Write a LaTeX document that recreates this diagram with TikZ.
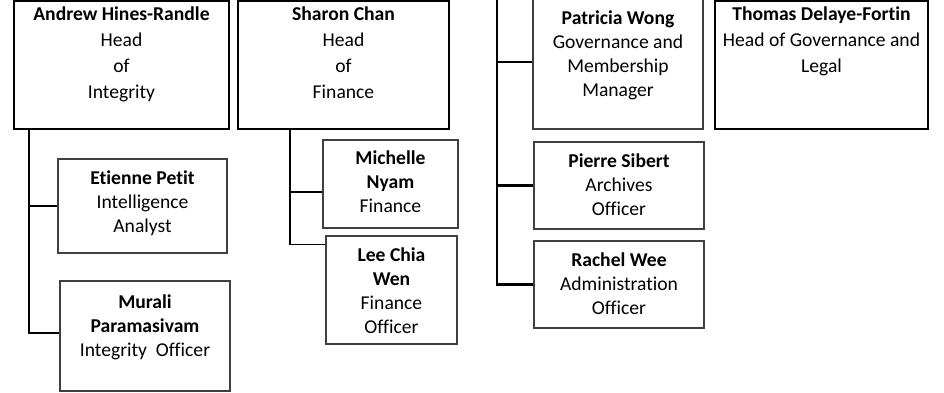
\documentclass[tikz,border=0pt]{standalone}
\usepackage{fontspec}
\setmainfont{Carlito}[Ligatures={NoCommon}]
\usetikzlibrary{calc}

\begin{document}
\begin{tikzpicture}[x=1pt, y=-1pt,
	headbox/.style={draw=black, line width=1.8pt, inner sep=0pt},
	staffbox/.style={draw=black!75, line width=1.2pt, inner sep=0pt},
	headtxt/.style={anchor=north, align=center, inner sep=0pt, font=\fontsize{19.6}{26}\selectfont},
	stafftxt/.style={anchor=north, align=center, inner sep=0pt, font=\fontsize{19.6}{24}\selectfont},
	link/.style={line width=1.6pt, color=black}]
		%%%%% START %%%%%
		\useasboundingbox (0, 0) rectangle (944, 392);
		
		% heads
		\node[headbox, minimum width=215pt, minimum height=128pt] (andrew) at (121.5, 65) {};
		\node[headbox, minimum width=211pt, minimum height=128pt] (sharon) at (343.5, 65) {};
		\node[headbox, minimum width=213pt, minimum height=128pt] (thomas) at (821.5, 65) {};
		\node[headtxt] (andrew-txt) at ([yshift=-6.3pt]andrew.north) {\textbf{Andrew Hines-Randle}\\Head\\of\\Integrity};
		\node[headtxt] (sharon-txt) at ([yshift=-6.3pt]sharon.north) {\textbf{Sharon Chan}\\Head\\of\\Finance};
		\node[headtxt] (thomas-txt) at ([yshift=-6.3pt]thomas.north) {\textbf{Thomas Delaye-Fortin}\\Head of Governance and\\Legal};
		
		% integrity team
		\node[staffbox, minimum width=169pt, minimum height=94pt] (etienne) at (142.5, 206) {};
		\node[staffbox, minimum width=170pt, minimum height=110pt] (murali) at (145, 336) {};
		\node[stafftxt] (etienne-txt) at ([yshift=-12.5pt]etienne.north) {\textbf{Etienne Petit}\\Intelligence\\Analyst};
		\node[stafftxt] (murali-txt) at ([yshift=-13.7pt]murali.north) {\textbf{Murali}\\\textbf{Paramasivam}\\Integrity\ \ Officer};
		
		% finance team
		\node[staffbox, minimum width=135pt, minimum height=88pt] (michelle) at (390.5, 184) {};
		\node[staffbox, minimum width=131pt, minimum height=108pt] (lee) at (391.5, 290) {};
		\node[stafftxt] (michelle-txt) at ([yshift=-11.2pt]michelle.north) {\textbf{Michelle}\\\textbf{Nyam}\\Finance};
		\node[stafftxt] (lee-txt) at ([yshift=-12.2pt]lee.north) {\textbf{Lee Chia}\\\textbf{Wen}\\Finance\\Officer};
		
		% governance team
		\node[staffbox, minimum width=170pt, minimum height=134pt] (patricia) at (618, 62) {};
		\node[staffbox, minimum width=170pt, minimum height=87pt] (pierre) at (619, 185.5) {};
		\node[staffbox, minimum width=170pt, minimum height=87pt] (rachel) at (619, 284.5) {};
		\node[stafftxt] (patricia-txt) at ([yshift=-16.2pt]patricia.north) {\textbf{Patricia Wong}\\Governance and\\Membership\\Manager};
		\node[stafftxt] (pierre-txt) at ([yshift=-12.2pt]pierre.north) {\textbf{Pierre Sibert}\\Archives\\Officer};
		\node[stafftxt] (rachel-txt) at ([yshift=-12.2pt]rachel.north) {\textbf{Rachel Wee}\\Administration\\Officer};
		
		% connectors
		\coordinate (intspine) at ([xshift=16pt]andrew.south west);
		\coordinate (finspine) at ([xshift=53pt]sharon.south west);
		\coordinate (govtop) at (497, -10);
		\draw[link] (intspine) |- (etienne.west);
		\draw[link] (intspine) |- ([yshift=3pt]murali.west);
		\draw[link] (finspine) |- ([yshift=-8pt]michelle.west);
		\draw[link] (finspine) |- ([yshift=-9pt]lee.north west);
		\draw[link, line width=2.2pt] (govtop) |- (patricia.west);
		\draw[link, line width=2.2pt] (govtop) |- (pierre.west);
		\draw[link, line width=2.2pt] (govtop) |- (rachel.west);
		
		%%%%% END %%%%%
	\end{tikzpicture}
\end{document}
